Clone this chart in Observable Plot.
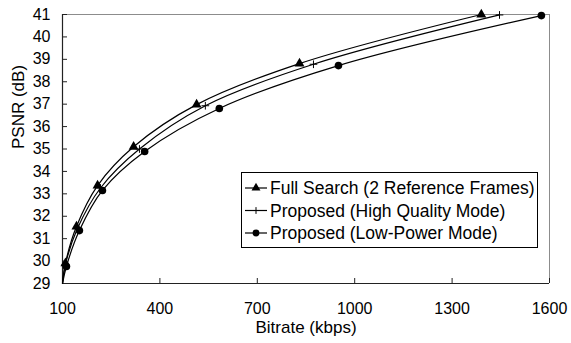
<!DOCTYPE html>
<html><head><meta charset="utf-8">
<script src="https://cdn.jsdelivr.net/npm/d3@7"></script>
<script src="https://cdn.jsdelivr.net/npm/@observablehq/plot@0.6"></script>
<style>
body{margin:0;background:#fff;}
#wrap{position:relative;width:571px;height:343px;font-family:"Liberation Sans",Arial,sans-serif;}
#legend{position:absolute;left:241px;top:172px;}
</style></head><body><div id="wrap"></div>
<script>
const seriesNames = ["Full Search (2 Reference Frames)", "Proposed (High Quality Mode)", "Proposed (Low-Power Mode)"];
const seriesSymbols = ["triangle", "plus", "circle"];
const fullBitrate = [109, 143, 208, 319, 513, 830, 1390];
const fullPsnr    = [29.9, 31.54, 33.37, 35.1, 36.98, 38.81, 41.0];
const highBitrate = [109, 146, 217, 337, 540, 873, 1446];
const highPsnr    = [29.85, 31.45, 33.26, 35.0, 36.93, 38.78, 40.98];
const lowBitrate  = [112, 152, 223, 353, 583, 950, 1575];
const lowPsnr     = [29.76, 31.36, 33.15, 34.89, 36.81, 38.72, 40.95];
// where the smoothed curves leave the plot frame at the lower-left corner
const leadBitrate = [100, 100, 100];
const leadPsnr    = [29.0, 29.0, 29.0];
const xTicks = [100, 400, 700, 1000, 1300, 1600];
const yTicks = [29, 30, 31, 32, 33, 34, 35, 36, 37, 38, 39, 40, 41];

const bitrates = [fullBitrate, highBitrate, lowBitrate];
const psnrs = [fullPsnr, highPsnr, lowPsnr];
const points = [];
const lines = [];
seriesNames.forEach((s, k) => {
  lines.push({series: s, bitrate: leadBitrate[k], psnr: leadPsnr[k]});
  bitrates[k].forEach((b, i) => {
    const row = {series: s, bitrate: b, psnr: psnrs[k][i]};
    points.push(row); lines.push(row);
  });
});

const font = '"Liberation Sans", Arial, sans-serif';
const symR = {triangle: 3.7, plus: 2.6, circle: 3.8};

const chart = Plot.plot({
  width: 571, height: 343,
  marginLeft: 62, marginRight: 22, marginTop: 14, marginBottom: 60,
  style: {fontFamily: font, fontSize: "16px", color: "#000", background: "#fff", overflow: "visible"},
  x: {domain: [100, 1600], ticks: xTicks, tickFormat: d3.format("d")},
  y: {domain: [29, 41], ticks: yTicks, tickFormat: d3.format("d")},
  symbol: {domain: seriesNames, range: seriesSymbols},
  marks: [
    Plot.ruleX([1600], {stroke: "#8c8c8c", strokeWidth: 1}),
    Plot.ruleY([41], {stroke: "#8c8c8c", strokeWidth: 1}),
    Plot.ruleX([100], {stroke: "#222", strokeWidth: 1.2}),
    Plot.ruleY([29], {stroke: "#222", strokeWidth: 1.2}),
    Plot.axisX(xTicks, {tickSize: -5, text: null, label: null, stroke: "#222"}),
    Plot.axisX(xTicks, {tickSize: 0, tickPadding: 19, label: null, fontSize: 16, fontVariant: "normal", tickFormat: d3.format("d")}),
    Plot.axisY(yTicks, {tickSize: -5, text: null, label: null, stroke: "#222"}),
    Plot.axisY(yTicks, {tickSize: 0, tickPadding: 12, label: null, fontSize: 16, fontVariant: "normal", tickFormat: d3.format("d")}),
    Plot.line(lines, {x: "bitrate", y: "psnr", z: "series", curve: "catmull-rom", stroke: "#000", strokeWidth: 1.2}),
    Plot.dot(points.filter(d => d.series === seriesNames[0]), {x: "bitrate", y: "psnr", symbol: "series", r: symR.triangle, fill: "#000", stroke: "none"}),
    Plot.dot(points.filter(d => d.series === seriesNames[1]), {x: "bitrate", y: "psnr", symbol: "series", r: symR.plus, fill: "none", stroke: "#000", strokeWidth: 1}),
    Plot.dot(points.filter(d => d.series === seriesNames[2]), {x: "bitrate", y: "psnr", symbol: "series", r: symR.circle, fill: "#000", stroke: "none"}),
    Plot.text(["Bitrate (kbps)"], {frameAnchor: "bottom", dy: 49, fontSize: 17}),
    Plot.text(["PSNR (dB)"], {frameAnchor: "left", rotate: -90, dx: -44, fontSize: 17})
  ]
});

const wrap = document.getElementById("wrap");
wrap.appendChild(chart);

// legend inside the plot area
const lw = 296, lh = 75;
const leg = d3.select(wrap).append("svg").attr("id", "legend")
  .attr("width", lw + 1).attr("height", lh + 1);
leg.append("rect").attr("x", 0.5).attr("y", 0.5).attr("width", lw).attr("height", lh)
  .attr("fill", "#fff").attr("stroke", "#000").attr("stroke-width", 1);
const d3sym = {triangle: d3.symbolTriangle, plus: d3.symbolPlus, circle: d3.symbolCircle};
seriesNames.forEach((s, i) => {
  const g = leg.append("g").attr("transform", `translate(0,${16 + i * 22.5})`);
  g.append("line").attr("x1", 4).attr("x2", 26).attr("y1", 0).attr("y2", 0)
    .attr("stroke", "#000").attr("stroke-width", 1.2);
  const sym = seriesSymbols[i];
  const r = symR[sym];
  g.append("path").attr("transform", "translate(15,0)")
    .attr("d", d3.symbol(d3sym[sym], Math.PI * r * r * 0.8)())
    .attr("fill", sym === "plus" ? "none" : "#000")
    .attr("stroke", sym === "plus" ? "#000" : "none");
  g.append("text").attr("x", 29).attr("y", 0).attr("dy", "0.35em")
    .attr("font-family", font).attr("font-size", 17.5).text(s);
});
</script></body></html>
